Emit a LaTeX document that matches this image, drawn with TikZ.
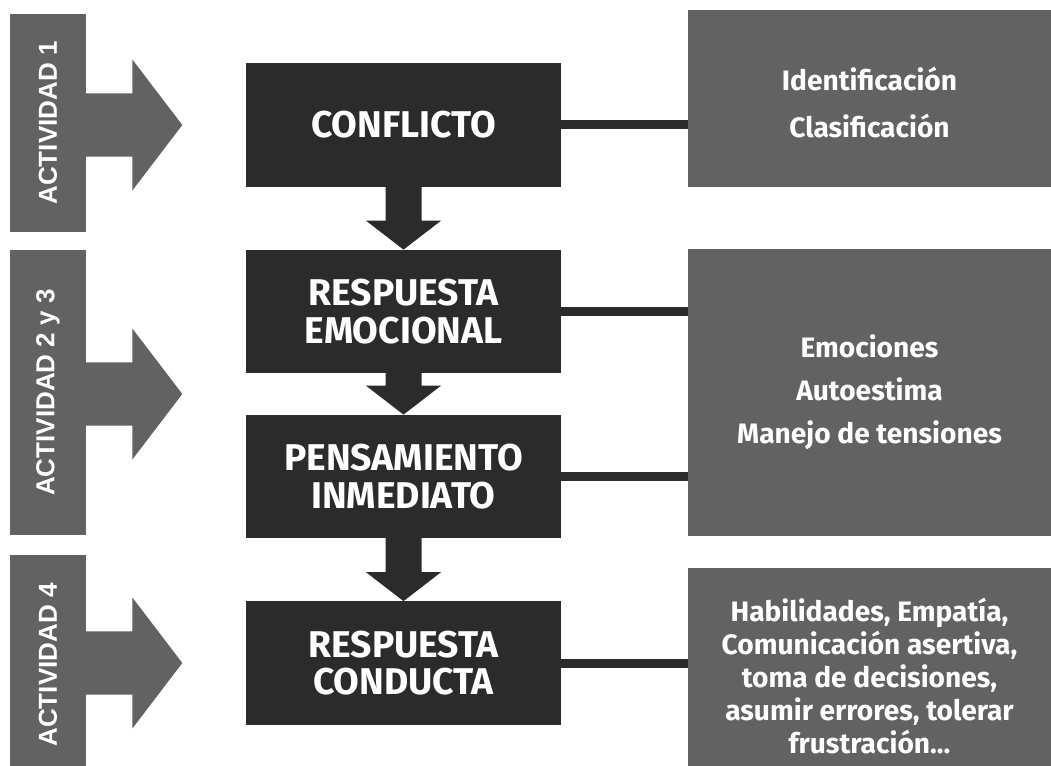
\documentclass[tikz,border=0pt]{standalone}
\usepackage{fontspec}
\setmainfont{Fira Sans}
\newfontfamily\actfont{Liberation Sans}
\usetikzlibrary{calc}

\definecolor{boxdark}{HTML}{2B2B2B}
\definecolor{boxgray}{HTML}{626262}

\tikzset{
  actbar/.style={fill=boxgray, text=white, inner sep=0pt, minimum width=1.9cm, font=\actfont\bfseries\fontsize{18.5}{20}\selectfont},
  stepbox/.style={fill=boxdark, text=white, inner sep=0pt, minimum width=7.875cm, minimum height=3.08cm, align=center, font=\bfseries\fontsize{26.5}{26.5}\selectfont},
  infobox/.style={fill=boxgray, text=white, inner sep=0pt, minimum width=9.075cm, align=center, font=\bfseries\fontsize{20}{23.5}\selectfont},
  link/.style={draw=boxdark, line width=0.225cm}
}

\begin{document}
\begin{tikzpicture}
          \useasboundingbox[fill=white] (0, 0) rectangle (26.275, 19.125);
          \node[actbar, minimum height=5.45cm] (act1) at (1.2, 16.05) {\rotatebox{90}{ACTIVIDAD 1}};
          \node[actbar, minimum height=7.125cm] (act2) at (1.2, 9.3125) {\rotatebox{90}{ACTIVIDAD 2 y 3}};
          \node[actbar, minimum height=5.5cm] (act4) at (1.2, 2.5) {\rotatebox{90}{ACTIVIDAD 4}};
          %
          \node[stepbox] (conf) at (10.0875, 16.0) {CONFLICTO};
          \node[stepbox] (emoc) at (10.0875, 11.3375) {RESPUESTA\\EMOCIONAL};
          \node[stepbox] (pens) at (10.0875, 7.2125) {PENSAMIENTO\\INMEDIATO};
          \node[stepbox] (cond) at (10.0875, 2.55) {RESPUESTA\\CONDUCTA};
          \coordinate (mid) at ($(emoc)!0.5!(pens)$);
          %
          \node[infobox, minimum height=4.425cm] (ident) at (21.7375, 16.6625) {\rule{0pt}{23pt}Identificación\\[10pt]Clasificación};
          \node[infobox, minimum height=7.175cm] (autoest) at (21.7375, 9.3125) {Emociones\\[7pt]Autoestima\\[7pt]Manejo de tensiones};
          \node[infobox, minimum height=5.4cm] (habil) at (21.7375, 2.225) {Habilidades, Empatía,\\Comunicación asertiva,\\toma de decisiones,\\asumir errores, tolerar\\frustración...};
          %
          \fill[boxgray] ($(act1.east |- conf)+(-0.05, 0.79)$) -- ++(1.2, 0) -- ++(0, 0.85) -- ++(1.25, -1.64) -- ++(-1.25, -1.64) -- ++(0, 0.85) -- ++(-1.2, 0) -- cycle;
          \fill[boxgray] ($(act2.east |- mid)+(-0.05, 0.79)$) -- ++(1.2, 0) -- ++(0, 0.85) -- ++(1.25, -1.64) -- ++(-1.25, -1.64) -- ++(0, 0.85) -- ++(-1.2, 0) -- cycle;
          \fill[boxgray] ($(act4.east |- cond)+(-0.05, 0.79)$) -- ++(1.2, 0) -- ++(0, 0.85) -- ++(1.25, -1.64) -- ++(-1.25, -1.64) -- ++(0, 0.85) -- ++(-1.2, 0) -- cycle;
          %
          \fill[boxdark] ($(conf.south)+(-0.45, 0.05)$) -- ($(emoc.north)+(-0.45, 0.725)$) -- ++(-0.49, 0) -- (emoc.north) -- ++(0.94, 0.725) -- ++(-0.49, 0) -- ($(conf.south)+(0.45, 0.05)$) -- cycle;
          \fill[boxdark] ($(emoc.south)+(-0.45, 0.05)$) -- ($(pens.north)+(-0.45, 0.725)$) -- ++(-0.49, 0) -- (pens.north) -- ++(0.94, 0.725) -- ++(-0.49, 0) -- ($(emoc.south)+(0.45, 0.05)$) -- cycle;
          \fill[boxdark] ($(pens.south)+(-0.45, 0.05)$) -- ($(cond.north)+(-0.45, 0.725)$) -- ++(-0.49, 0) -- (cond.north) -- ++(0.94, 0.725) -- ++(-0.49, 0) -- ($(pens.south)+(0.45, 0.05)$) -- cycle;
          %
          \draw[link] (conf.east) -- (conf.east -| ident.west);
          \draw[link] (emoc.east) -- (emoc.east -| autoest.west);
          \draw[link] (pens.east) -- (pens.east -| autoest.west);
          \draw[link] (cond.east) -- (cond.east -| habil.west);
        \end{tikzpicture}
\end{document}
